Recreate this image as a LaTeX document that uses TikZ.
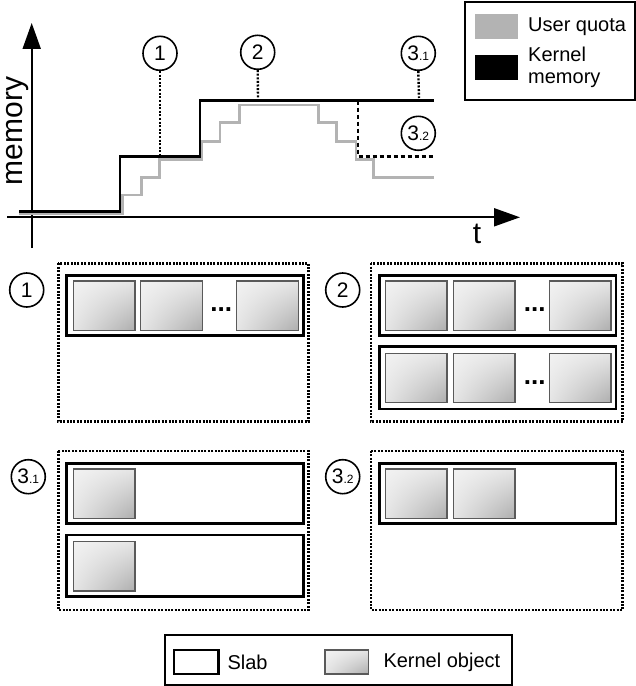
\documentclass[tikz,border=0pt]{standalone}
\usepackage{fontspec}
\setmainfont{Liberation Sans}
\usetikzlibrary{arrows.meta,shadings}
\definecolor{quotagray}{HTML}{B3B3B3}
\definecolor{objborder}{HTML}{5A5A5A}
\newcommand\kobjat[2]{%
  \shade[kobjshade] (#1,#2) rectangle ++(61.7,49.3);
  \draw[kobjline] (#1,#2) rectangle ++(61.7,49.3);}
\newcommand\subnum[1]{{\fontsize{12bp}{12bp}\selectfont .#1}}
\begin{document}
\begin{tikzpicture}[x=1bp,y=-1bp,
  axisline/.style={line width=2bp,-{Triangle[length=26bp,width=18bp]}},
  kmem/.style={line width=2.5bp,black},
  uquota/.style={line width=2.5bp,quotagray},
  kmemdash/.style={line width=2.2bp,black,dash pattern=on 4.5bp off 2.5bp},
  marker/.style={line width=2.4bp,black,dash pattern=on 2bp off 1.6bp},
  numcirc/.style={circle,draw,line width=1.6bp,minimum size=34bp,inner sep=0pt,
    font=\fontsize{21bp}{21bp}\selectfont},
  panelbox/.style={line width=2.5bp,dash pattern=on 2bp off 1.4bp},
  slabbox/.style={line width=2.6bp,black},
  kobjshade/.style={upper left=black!5,upper right=black!10,lower left=black!10,lower right=black!32},
  kobjline/.style={line width=1.2bp,objborder},
  lbl/.style={font=\fontsize{20bp}{22bp}\selectfont,inner sep=0pt},
  bigl/.style={font=\fontsize{30bp}{30bp}\selectfont,inner sep=0pt},
  dotsl/.style={font=\fontsize{26bp}{26bp}\selectfont\bfseries,inner sep=0pt,anchor=base}
]
\useasboundingbox (0,0) rectangle (636,686);

% ---------- chart ----------
\coordinate (yb) at (31.7,248);
\coordinate (yt) at (31.7,23);
\coordinate (xl) at (7,217.3);
\coordinate (xr) at (520,217.3);
\draw[axisline] (yb) -- (yt);
\draw[axisline] (xl) -- (xr);
\node[bigl,rotate=90,anchor=south] (memlbl) at (29.3,131) {memory};
\node[bigl] (tlbl) at (477,234) {t};

\draw[uquota] (19,214) -- (122.7,214) -- (122.7,195) -- (141.7,195) -- (141.7,177.3)
  -- (159.3,177.3) -- (159.3,159.3) -- (201.7,159.3) -- (201.7,141.7) -- (220,141.7)
  -- (220,122.7) -- (239.3,122.7) -- (239.3,105) -- (318.3,105) -- (318.3,122.7)
  -- (336.7,122.7) -- (336.7,141.7) -- (356,141.7) -- (356,159.3) -- (373.3,159.3)
  -- (373.3,177.3) -- (434,177.3);
\draw[kmem] (19,211.7) -- (120,211.7) -- (120,156.7) -- (200,156.7) -- (200,100.7) -- (434,100.7);
\draw[kmemdash] (358.3,100.7) -- (358.3,156.5) -- (434,156.5);

\node[numcirc] (c1) at (160,53.3) {1};
\node[numcirc] (c2) at (257.7,52.3) {2};
\node[numcirc] (c31) at (418.3,53.3) {3\subnum{1}};
\node[numcirc] (c32) at (418.3,133.3) {3\subnum{2}};
\coordinate (m1) at (160,154);
\coordinate (m2) at (258,98);
\coordinate (m31) at (419,98);
\draw[marker] (c1.south) -- (m1);
\draw[marker] (c2.south) -- (m2);
\draw[marker] (c31.south) -- (m31);

% legend top
\draw[line width=2bp] (465,2) rectangle (634.5,100);
\fill[quotagray] (475,14) rectangle (518.3,39.3);
\fill[black] (475,55) rectangle (518.3,80);
\node[lbl,anchor=west] (lq) at (528,27) {User quota};
\node[lbl,anchor=west,align=left] (lk) at (528,67.5) {Kernel\\memory};

% ---------- panel 1 ----------
\node[numcirc] (p1) at (26.7,290) {1};
\draw[panelbox] (58.3,263.3) rectangle (308.3,421.7);
\draw[slabbox] (66.7,275.7) rectangle (303.3,335.7);
\kobjat{73.3}{281}
\kobjat{140.7}{281}
\kobjat{236.7}{281}
\node[dotsl] (d1) at (221.3,311.5) {...};

% ---------- panel 2 ----------
\node[numcirc] (p2) at (342.7,290) {2};
\draw[panelbox] (371,263.3) rectangle (622.7,421.7);
\draw[slabbox] (379.3,275.7) rectangle (616,335.7);
\draw[slabbox] (379.3,346.7) rectangle (616,409);
\kobjat{385.3}{281}
\kobjat{453.3}{281}
\kobjat{549.3}{281}
\kobjat{385.3}{353.3}
\kobjat{453.3}{353.3}
\kobjat{549.3}{353.3}
\node[dotsl] (d2) at (534.8,311.5) {...};
\node[dotsl] (d3) at (534.8,384) {...};

% ---------- panel 3.1 ----------
\node[numcirc] (p31) at (28.3,476.7) {3\subnum{1}};
\draw[panelbox] (58.3,451) rectangle (308.3,610);
\draw[slabbox] (66.7,463.3) rectangle (303.3,523.3);
\draw[slabbox] (66.7,535) rectangle (303.3,596.7);
\kobjat{73.3}{469}
\kobjat{73.3}{541.7}

% ---------- panel 3.2 ----------
\node[numcirc] (p32) at (342.7,476.7) {3\subnum{2}};
\draw[panelbox] (371,451) rectangle (622.7,610);
\draw[slabbox] (379.3,463.3) rectangle (616,523.3);
\kobjat{385.3}{469}
\kobjat{453.3}{469}

% ---------- legend bottom ----------
\draw[line width=2bp] (165,635) rectangle (511.7,684.5);
\draw[line width=2.4bp] (174,650) rectangle (218.3,674);
\node[lbl,anchor=west] (ls) at (227.3,662.5) {Slab};
\shade[kobjshade] (325,650) rectangle (368.3,674);
\draw[kobjline] (325,650) rectangle (368.3,674);
\node[lbl,anchor=west] (lo) at (383.3,662.5) {Kernel object};
\end{tikzpicture}
\end{document}
